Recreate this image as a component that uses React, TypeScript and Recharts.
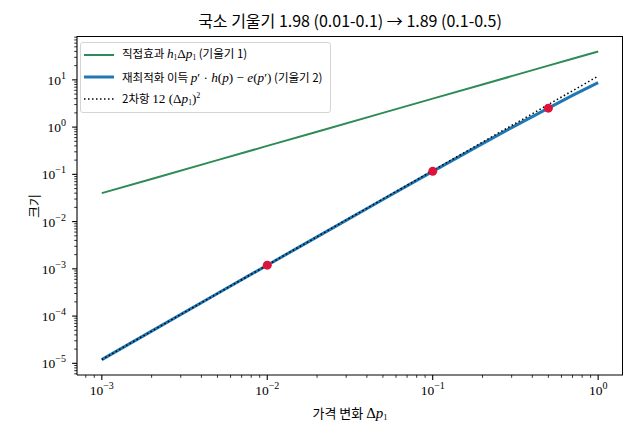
import React from 'react';
import { ComposedChart, Line, XAxis, YAxis, ReferenceDot } from 'recharts';

// Price change grid (log spaced) and the three series
const priceSteps = [0.001, 0.002, 0.005, 0.01, 0.02, 0.05, 0.1, 0.2, 0.3, 0.5, 0.7, 1.0];
const directEffect = [0.04, 0.08, 0.2, 0.4, 0.8, 2, 4, 8, 12, 20, 28, 40];
const reoptGain = [1.2e-5, 4.8e-5, 3.0e-4, 1.195e-3, 4.76e-3, 0.0294, 0.1156, 0.448, 0.973, 2.52, 4.7, 8.7];
const quadTerm = [1.2e-5, 4.8e-5, 3.0e-4, 1.2e-3, 4.8e-3, 0.03, 0.12, 0.48, 1.08, 3.0, 5.88, 12];

// red markers where the local slope was measured
const markX = [0.01, 0.1, 0.5];
const markY = [1.195e-3, 0.1156, 2.52];

const xMajor = [1e-3, 1e-2, 1e-1, 1];
const xTickLabels = ['−3', '−2', '−1', '0'];
const yMajor = [1e-5, 1e-4, 1e-3, 1e-2, 1e-1, 1, 10];
const yTickLabels = ['−5', '−4', '−3', '−2', '−1', '0', '1'];
const mantissas = [2, 3, 4, 5, 6, 7, 8, 9];

const xDomain = [7.08e-4, 1.413];
const yDomain = [5.66e-6, 84.8];

const minorTicks = (majors: number[], lo: number, hi: number) => {
  const out: number[] = [];
  [majors[0] / 10, ...majors].forEach((d) => {
    mantissas.forEach((m) => {
      const v = m * d;
      if (v > lo && v < hi) out.push(v);
    });
  });
  return out;
};

const xTicks = [...xMajor, ...minorTicks(xMajor, xDomain[0], xDomain[1])];
const yTicks = [...yMajor, ...minorTicks(yMajor, yDomain[0], yDomain[1])];

const data = priceSteps.map((x, i) => ({
  x,
  direct: directEffect[i],
  reopt: reoptGain[i],
  quad: quadTerm[i],
}));

const SERIF = '"Liberation Serif", "DejaVu Serif", serif';
const SANS = '"Noto Sans CJK KR", "Noto Sans", sans-serif';

const majorIndex = (v: number, majors: number[]) =>
  majors.findIndex((m) => Math.abs(Math.log10(v) - Math.log10(m)) < 1e-6);

const XTick = (props: any) => {
  const { x, y, payload } = props;
  const idx = majorIndex(payload.value, xMajor);
  const major = idx >= 0;
  return (
    <g>
      <line x1={x} x2={x} y1={y} y2={y + (major ? 4.9 : 2.8)} stroke="#000" strokeWidth={major ? 1.1 : 0.8} />
      {major && (
        <text x={x} y={y + 20} textAnchor="middle" fontFamily={SERIF} fontSize={13.5} fill="#000">
          10
          <tspan dy={-6} fontSize={10}>{xTickLabels[idx]}</tspan>
        </text>
      )}
    </g>
  );
};

const YTick = (props: any) => {
  const { x, y, payload } = props;
  const idx = majorIndex(payload.value, yMajor);
  const major = idx >= 0;
  return (
    <g>
      <line x1={x - (major ? 4.9 : 2.8)} x2={x} y1={y} y2={y} stroke="#000" strokeWidth={major ? 1.1 : 0.8} />
      {major && (
        <text x={x - 11} y={y + 5} textAnchor="end" fontFamily={SERIF} fontSize={13.5} fill="#000">
          10
          <tspan dy={-6} fontSize={10}>{yTickLabels[idx]}</tspan>
        </text>
      )}
    </g>
  );
};

const Sub = ({ children }: { children: React.ReactNode }) => (
  <sub style={{ fontSize: '0.65em', fontFamily: SERIF, verticalAlign: '-0.25em' }}>{children}</sub>
);
const I = ({ children }: { children: React.ReactNode }) => (
  <span style={{ fontFamily: SERIF, fontStyle: 'italic', fontSize: '1.15em' }}>{children}</span>
);
const M = ({ children }: { children: React.ReactNode }) => (
  <span style={{ fontFamily: SERIF, fontSize: '1.15em' }}>{children}</span>
);

const legendRows = [
  {
    key: 'direct',
    sample: { stroke: '#2e8b57', width: 2, dash: undefined },
    label: (
      <>
        직접효과 <I>h</I><Sub>1</Sub><M>Δ</M><I>p</I><Sub>1</Sub> (기울기 1)
      </>
    ),
  },
  {
    key: 'reopt',
    sample: { stroke: '#1f77b4', width: 3, dash: undefined },
    label: (
      <>
        재최적화 이득 <I>p</I><M>′ · </M><I>h</I><M>(</M><I>p</I><M>) − </M><I>e</I><M>(</M><I>p</I><M>′)</M> (기울기 2)
      </>
    ),
  },
  {
    key: 'quad',
    sample: { stroke: '#000', width: 1.5, dash: '1.5 2.5' },
    label: (
      <>
        2차항 <M>12 (Δ</M><I>p</I><Sub>1</Sub><M>)</M>
        <sup style={{ fontSize: '0.7em', fontFamily: SERIF }}>2</sup>
      </>
    ),
  },
];

const Legend = () => (
  <div
    style={{
      position: 'absolute',
      left: 80,
      top: 42,
      width: 251,
      height: 71,
      boxSizing: 'border-box',
      border: '1px solid #d5d5d5',
      borderRadius: 3,
      background: 'rgba(255,255,255,0.8)',
      fontFamily: SANS,
      fontSize: 11.5,
      color: '#000',
      paddingTop: 1,
    }}
  >
    {legendRows.map((r) => (
      <div key={r.key} style={{ display: 'flex', alignItems: 'center', height: 22, whiteSpace: 'nowrap' }}>
        <svg width={41} height={10} style={{ flex: 'none' }}>
          <line x1={3} x2={33} y1={5} y2={5} stroke={r.sample.stroke} strokeWidth={r.sample.width} strokeDasharray={r.sample.dash} />
        </svg>
        <span style={{ lineHeight: '14px' }}>{r.label}</span>
      </div>
    ))}
  </div>
);

export default function App() {
  return (
    <div style={{ position: 'absolute', left: 0, top: 0, width: 633, height: 440, background: '#fff' }}>
      <div
        style={{
          position: 'absolute',
          left: 77,
          width: 546,
          top: 8,
          textAlign: 'center',
          fontFamily: SANS,
          fontSize: 16,
          color: '#000',
        }}
      >
        국소 기울기 1.98 (0.01-0.1) → 1.89 (0.1-0.5)
      </div>
      <ComposedChart width={633} height={440} data={data} margin={{ top: 36, right: 10, bottom: 35, left: 17 }}>
        <XAxis
          dataKey="x"
          type="number"
          scale="log"
          domain={xDomain}
          allowDataOverflow
          ticks={xTicks}
          interval={0}
          tickSize={0}
          tickMargin={0}
          tickLine={false}
          tick={XTick}
          height={30}
          axisLine={{ stroke: '#000', strokeWidth: 1.1 }}
        />
        <YAxis
          type="number"
          scale="log"
          domain={yDomain}
          allowDataOverflow
          ticks={yTicks}
          interval={0}
          tickSize={0}
          tickMargin={0}
          tickLine={false}
          tick={YTick}
          width={60}
          axisLine={{ stroke: '#000', strokeWidth: 1.1 }}
        />
        <Line dataKey="direct" stroke="#2e8b57" strokeWidth={2} dot={false} isAnimationActive={false} />
        <Line dataKey="reopt" stroke="#1f77b4" strokeWidth={3} dot={false} isAnimationActive={false} />
        <Line
          dataKey="quad"
          stroke="#000"
          strokeWidth={1.5}
          strokeDasharray="1.5 2.5"
          dot={false}
          isAnimationActive={false}
        />
        {markX.map((mx, i) => (
          <ReferenceDot key={mx} x={mx} y={markY[i]} r={4.5} fill="#dc143c" stroke="none" ifOverflow="visible" />
        ))}
      </ComposedChart>
      {/* top and right spines */}
      <div
        style={{
          position: 'absolute',
          left: 77,
          top: 36,
          width: 546,
          height: 339,
          borderTop: '1.1px solid #000',
          borderRight: '1.1px solid #000',
          boxSizing: 'border-box',
          pointerEvents: 'none',
        }}
      />
      <div
        style={{
          position: 'absolute',
          left: 77,
          width: 546,
          top: 403,
          textAlign: 'center',
          fontFamily: SANS,
          fontSize: 13,
          color: '#000',
        }}
      >
        가격 변화 <M>Δ</M><I>p</I><Sub>1</Sub>
      </div>
      <div
        style={{
          position: 'absolute',
          left: 33,
          top: 206,
          transform: 'translate(-50%, -50%) rotate(-90deg)',
          fontFamily: SANS,
          fontSize: 13,
          color: '#000',
          whiteSpace: 'nowrap',
        }}
      >
        크기
      </div>
      <Legend />
    </div>
  );
}
